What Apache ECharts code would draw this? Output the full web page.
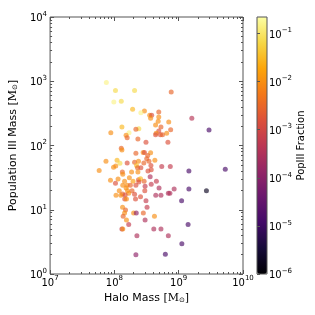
<!DOCTYPE html>
<html><head><meta charset="utf-8">
<script src="https://cdn.jsdelivr.net/npm/echarts@6/dist/echarts.min.js"></script>
<style>html,body{margin:0;padding:0;background:#fff}#c{width:315px;height:315px}</style>
</head><body><div id="c"></div>
<script>
// Halo mass [Msun]
const haloMass = [
 7.5e7,1.04e8,2.06e8,7.65e8,9.8e7,1.28e8,1.92e8,2.93e8,2.58e8,4.9e8,
 3.54e8,3.8e8,4.9e8,3.66e8,1.6e9,7.0e8,4.8e8,4.37e8,5.3e8,1.31e8,
 2.4e8,2.16e8,7.5e8,8.8e7,1.69e8,4.9e8,4.46e8,6.5e8,4.37e8,5.2e8,
 5.6e8,1.52e8,1.58e8,2.32e8,3.1e8,6.8e8,2.96e9,
 1.28e8,1.31e8,2.16e8,2.8e8,2.93e8,3.66e8,3.3e8,3.18e8,4.26e8,1.1e8,
 7.4e7,1.22e8,1.58e8,2.06e8,2.37e8,2.87e8,3.45e8,1.05e8,9.7e7,2.21e8,
 3.7e8,5.45e8,7.4e8,2.29e8,2.58e8,5.8e7,1.33e8,1.85e8,2.32e8,3.33e8,
 3.74e8,1.44e9,1.35e8,3.6e8,1.14e8,1.71e8,2.37e8,2.55e8,8.7e7,1.04e8,
 1.44e8,1.95e8,2.4e8,2.9e8,4.5e8,1.35e8,1.58e8,1.77e8,2.16e8,3.0e8,
 3.74e8,1.52e8,4.95e8,8.5e8,1.44e9,1.19e8,1.6e8,1.88e8,2.97e8,6.9e8,
 7.3e8,4.4e8,5.3e8,1.34e8,1.67e8,1.06e8,1.26e8,1.47e8,2.06e8,2.55e8,
 1.45e8,1.54e8,2.13e8,3.1e8,1.11e9,2.7e9,5.3e9,
 1.34e8,1.49e8,3.22e8,1.44e8,1.99e8,2.19e8,2.82e8,1.37e8,4.2e8,1.54e8,
 3.0e8,1.67e8,1.4e9,1.31e8,1.35e8,4.1e8,5.3e8,2.24e8,6.9e8,1.12e9,
 2.16e8,6.2e8
];
// Population III mass [Msun]
const popIIIMass = [
 960,720,720,680,475,488,366,344,324,332,
 295,295,278,265,265,232,238,208,194,194,
 183,179,176,158,158,168,155,155,147,147,
 147,144,132,126,112,112,174,
 91,85,76,78,78,77,70,62,59,59,
 57,53,53.5,55,57,53.5,57,48,46,49,
 49,47,47,45,45,41,38.7,38.7,38.7,40,
 42,40,35.6,32.7,30,31.5,29.4,30.4,28.7,25.8,
 27.7,27.7,27,27.7,27.7,24,24,24,24,23.2,
 24.9,21.8,21.8,21,21,19.8,19.8,19.8,19.8,18,
 18,16.8,16.8,17.6,18,16.8,16.8,17,17.4,16,
 14.7,14.7,14.7,13.8,13.8,19.8,42.6,
 10.9,9.9,10.9,8.9,8.9,8.9,8.9,7.9,7.9,6.9,
 6.9,5.9,5.9,5.0,5.0,5.0,5.0,3.95,3.95,2.96,
 2.0,2.03
];
// PopIII fraction (colour)
const popIIIFraction = [
 0.15,0.07,0.07,3e-3,0.15,0.07,0.03,1e-2,0.15,3e-3,
 1e-2,1.5e-3,1e-2,1e-2,4e-4,1e-2,1e-2,1e-2,3e-3,0.03,
 0.07,3e-3,3e-3,1e-2,0.15,1.5e-3,1e-2,1e-2,1.5e-3,1.5e-3,
 3e-3,1e-2,3e-3,3e-3,1.5e-3,1.5e-3,1.5e-5,
 3e-3,1e-2,3e-3,1e-2,1.5e-3,1e-2,3e-3,3e-3,1e-2,0.03,
 1e-2,0.07,1.5e-3,3e-3,1e-2,3e-3,3e-3,1e-2,1e-2,0.03,
 1.5e-3,6e-4,6e-4,3e-3,1.5e-3,1e-2,3e-3,1e-2,1e-2,1.5e-3,
 1.5e-3,1.5e-5,1e-2,3e-4,1e-2,1e-2,3e-3,0.03,1e-2,1.5e-3,
 1e-2,0.015,1.5e-3,3e-3,6e-4,1e-2,1e-2,3e-3,1.5e-3,6e-4,
 6e-4,1e-2,3e-4,3e-4,1.5e-5,1e-2,1e-2,3e-3,1.5e-3,3e-4,
 3e-4,3e-4,3e-4,3e-3,1e-2,1e-2,1e-2,1.5e-3,1.5e-3,1.5e-3,
 1.5e-3,1e-2,1.5e-3,6e-4,1.5e-5,2e-6,1.5e-5,
 1e-2,3e-3,6e-4,1e-2,1e-2,1.2e-4,3e-3,3e-3,1e-2,1e-2,
 3e-4,6e-4,1.5e-5,6e-4,1e-2,3e-4,3e-4,3e-4,3e-4,1.5e-5,
 1.2e-4,1.5e-5
];
const xTicks = [1e7, 1e8, 1e9, 1e10];
const yTicks = [1e0, 1e1, 1e2, 1e3, 1e4];
const cbTicks = [1e-6, 1e-5, 1e-4, 1e-3, 1e-2, 1e-1];
const xRange = [1e7, 1e10];
const yRange = [1e0, 1e4];
const cbRange = [1e-6, 0.22];
const inferno = ['#000004','#160b39','#420a68','#6a176e','#932667','#bc3754','#dd513a','#f37819','#fca50a','#f6d746','#fcffa4'];

function minorTicks(lo, hi) {
  const out = [];
  for (let e = lo; e < hi; e++) for (let k = 2; k <= 9; k++) out.push(k * Math.pow(10, e));
  return out;
}
function pow10Label(v) {
  const e = Math.round(Math.log10(v));
  return '{b|10}{s|' + (e < 0 ? '\u2212' + (-e) : e) + '}';
}
const FONT = 'DejaVu Sans';
const AX = '#555';
const tickRich = {
  b: {fontFamily: FONT, fontSize: 10, color: '#000', lineHeight: 13, verticalAlign: 'bottom'},
  s: {fontFamily: FONT, fontSize: 7, color: '#000', verticalAlign: 'top'}
};
const nameRich = {
  t: {fontFamily: FONT, fontSize: 11, color: '#000'},
  m: {fontFamily: 'DejaVu Serif', fontSize: 11, color: '#000'},
  o: {fontFamily: FONT, fontSize: 7, color: '#000', verticalAlign: 'bottom', padding: [4, 0, 0, 0]}
};

function logAxis(opts) {
  return Object.assign({
    type: 'log', logBase: 10, gridIndex: 0,
    axisLine: {show: false},
    splitLine: {show: false},
    axisLabel: {show: false},
    axisTick: {show: true, inside: true, length: 4, lineStyle: {color: AX, width: 1}}
  }, opts);
}

const chart = echarts.init(document.getElementById('c'), null, {renderer: 'canvas'});
const data = haloMass.map((x, i) => [x, popIIIMass[i], Math.log10(popIIIFraction[i])]);

chart.setOption({
  animation: false,
  backgroundColor: '#fff',
  grid: [
    {left: 46, top: 17, width: 197, height: 257, show: true, borderColor: AX, borderWidth: 1, backgroundColor: 'transparent', z: 10},
    {left: 257, top: 17, width: 10, height: 257, show: true, borderColor: AX, borderWidth: 1, backgroundColor: 'transparent', z: 10}
  ],
  xAxis: [
    logAxis({min: xRange[0], max: xRange[1], position: 'bottom',
      axisTick: {show: true, inside: true, length: 4, lineStyle: {color: AX}, customValues: xTicks},
      axisLabel: {show: true, customValues: xTicks, formatter: pow10Label, rich: tickRich, margin: 1},
      name: '{t|Halo Mass [}{m|M}{o|\u2299}{t|]}', nameLocation: 'middle', nameGap: 14,
      nameTextStyle: {rich: nameRich}}),
    logAxis({min: xRange[0], max: xRange[1], position: 'bottom',
      axisTick: {show: true, inside: true, length: 2, lineStyle: {color: AX}, customValues: minorTicks(7, 10)}}),
    logAxis({min: xRange[0], max: xRange[1], position: 'top',
      axisTick: {show: true, inside: true, length: 4, lineStyle: {color: AX}, customValues: xTicks}}),
    logAxis({min: xRange[0], max: xRange[1], position: 'top',
      axisTick: {show: true, inside: true, length: 2, lineStyle: {color: AX}, customValues: minorTicks(7, 10)}}),
    {type: 'value', gridIndex: 1, show: false, min: 0, max: 1}
  ],
  yAxis: [
    logAxis({min: yRange[0], max: yRange[1], position: 'left',
      axisTick: {show: true, inside: true, length: 4, lineStyle: {color: AX}, customValues: yTicks},
      axisLabel: {show: true, customValues: yTicks, formatter: pow10Label, rich: tickRich, margin: 3},
      name: '{t|Population III Mass [}{m|M}{o|\u2299}{t|]}', nameLocation: 'middle', nameGap: 26, nameRotate: 90,
      nameTextStyle: {rich: nameRich}}),
    logAxis({min: yRange[0], max: yRange[1], position: 'left',
      axisTick: {show: true, inside: true, length: 2, lineStyle: {color: AX}, customValues: minorTicks(0, 4)}}),
    logAxis({min: yRange[0], max: yRange[1], position: 'right',
      axisTick: {show: true, inside: true, length: 4, lineStyle: {color: AX}, customValues: yTicks}}),
    logAxis({min: yRange[0], max: yRange[1], position: 'right',
      axisTick: {show: true, inside: true, length: 2, lineStyle: {color: AX}, customValues: minorTicks(0, 4)}}),
    logAxis({gridIndex: 1, min: cbRange[0], max: cbRange[1], position: 'right', z: 10,
      axisTick: {show: true, inside: false, length: 3, lineStyle: {color: AX}, customValues: cbTicks},
      axisLabel: {show: true, customValues: cbTicks, formatter: pow10Label, rich: tickRich, margin: 2},
      name: 'PopIII Fraction', nameLocation: 'middle', nameGap: 27, nameRotate: 90,
      nameTextStyle: {fontFamily: FONT, fontSize: 10, color: '#000'}})
  ],
  visualMap: {
    type: 'continuous', min: -6, max: Math.log10(cbRange[1]), dimension: 2, seriesIndex: 0,
    inRange: {color: inferno}, left: 257, top: 17, itemWidth: 10, itemHeight: 257,
    calculable: false, text: null, showLabel: false, padding: 0, orient: 'vertical', hoverLink: false
  },
  series: [{
    type: 'scatter', xAxisIndex: 0, yAxisIndex: 0, data: data,
    symbolSize: 5, itemStyle: {opacity: 0.65}
  }]
});
</script></body></html>
